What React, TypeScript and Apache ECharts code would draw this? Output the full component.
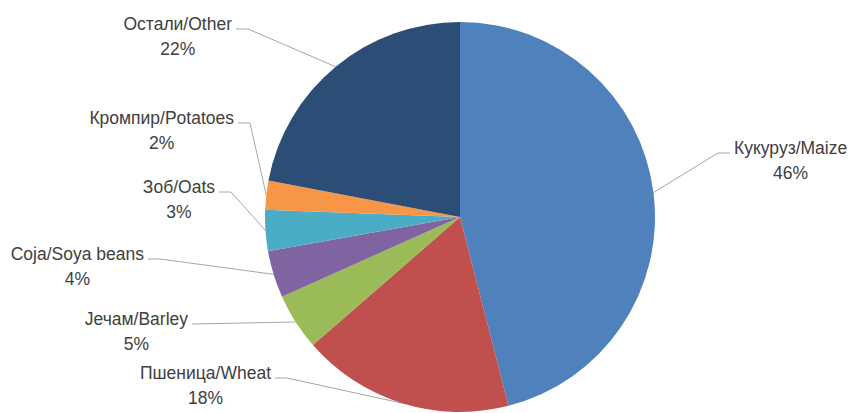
import React, { useEffect, useRef } from "react";
import * as echarts from "echarts";

const categories = [
  "Кукуруз/Maize",
  "Пшеница/Wheat",
  "Јечам/Barley",
  "Соја/Soya beans",
  "Зоб/Oats",
  "Кромпир/Potatoes",
  "Остали/Other",
];
const shares = [46.0, 17.6, 4.7, 3.9, 3.4, 2.4, 22.0];
const colors = ["#4F81BD", "#C0504D", "#9BBB59", "#8064A2", "#4BACC6", "#F79646", "#2C4D75"];

// label layout: end of leader line [x, y] and side
const labelAnchors: [number, number, "left" | "right"][] = [
  [730, 153, "right"],
  [275, 378, "left"],
  [192, 324, "left"],
  [148, 259, "left"],
  [219, 192, "left"],
  [238, 123, "left"],
  [236, 29, "left"],
];

const FONT = '"Liberation Sans", Arial, sans-serif';
const FS = 17.5;
const LH = 25;

export default function App() {
  const ref = useRef<HTMLDivElement>(null);
  useEffect(() => {
    if (!ref.current) return;
    const chart = echarts.init(ref.current, undefined, { renderer: "svg" });
    const canvas = document.createElement("canvas");
    const ctx = canvas.getContext("2d")!;
    ctx.font = `${FS}px ${FONT}`;
    const measure = (i: number) => {
      const a = ctx.measureText(categories[i]).width;
      const b = ctx.measureText(Math.round(shares[i]) + "%").width;
      return Math.max(a, b);
    };
    chart.setOption({
      animation: false,
      backgroundColor: "#ffffff",
      series: [
        {
          type: "pie",
          center: [460, 217],
          radius: 195,
          startAngle: 90,
          clockwise: true,
          avoidLabelOverlap: false,
          data: categories.map((name, i) => ({
            name,
            value: shares[i],
            itemStyle: { color: colors[i] },
          })),
          label: {
            show: true,
            position: "outside",
            overflow: "none",
            fontFamily: FONT,
            fontSize: FS,
            lineHeight: LH,
            color: "#404040",
            formatter: (p: any) => `${p.name}\n${Math.round(p.value)}%`,
          },
          labelLine: {
            show: true,
            length: 15,
            length2: 15,
            lineStyle: { color: "#A6A6A6", width: 1 },
          },
          labelLayout: (params: any) => {
            const i = params.dataIndex;
            const [ax, ay, side] = labelAnchors[i];
            const w = measure(i);
            const gap = 4;
            const cx = side === "left" ? ax - gap - w / 2 : ax + gap + w / 2;
            const top = ay - 5 - LH / 2;
            const p0 = params.labelLinePoints ? params.labelLinePoints[0] : [ax, ay];
            const hx = side === "left" ? ax + 12 : ax - 12;
            const mid = Math.abs(p0[1] - ay) < 3 ? [ax, ay] : [hx, ay];
            return {
              x: cx,
              y: top,
              align: "center",
              verticalAlign: "top",
              labelLinePoints: [p0, mid, [ax, ay]],
            };
          },
        },
      ],
    });
    return () => chart.dispose();
  }, []);
  return (
    <div
      ref={ref}
      style={{ position: "fixed", left: 0, top: 0, width: "848px", height: "413px" }}
    />
  );
}
